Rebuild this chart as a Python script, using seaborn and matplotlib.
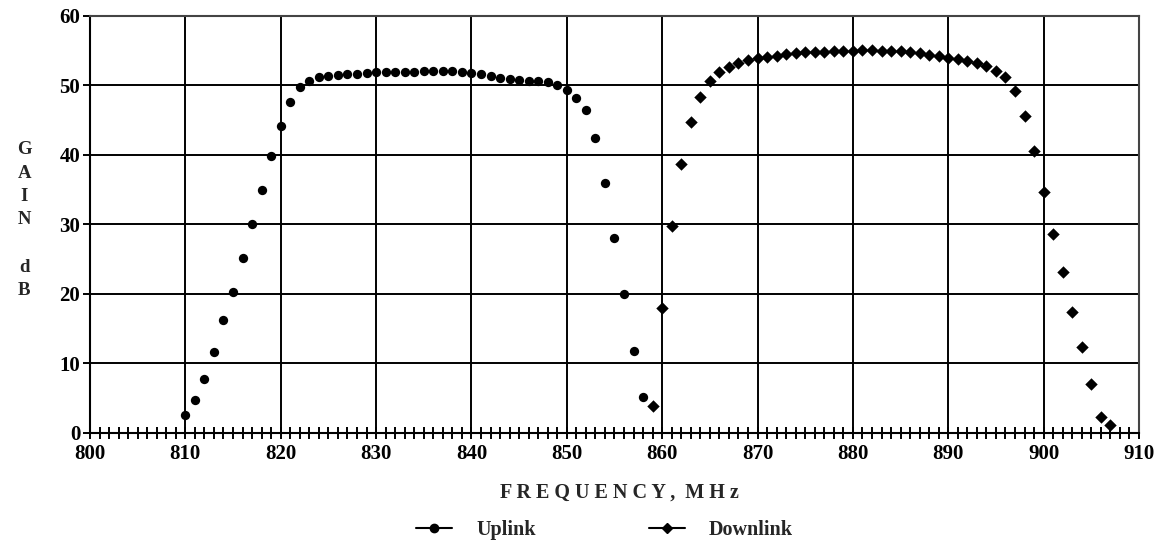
import numpy as np
import pandas as pd
import matplotlib
matplotlib.use("Agg")
import matplotlib.pyplot as plt
import seaborn as sns
from matplotlib.lines import Line2D
from matplotlib.ticker import MultipleLocator

# valeurs
uplink_freq = list(range(810, 859))
uplink_gain = [2.6, 4.7, 7.8, 11.6, 16.3, 20.3, 25.1, 30.0, 34.9, 39.8,
               44.1, 47.6, 49.8, 50.7, 51.2, 51.3, 51.5, 51.6, 51.7, 51.8,
               51.9, 51.9, 52.0, 52.0, 52.0, 52.1, 52.1, 52.1, 52.1, 52.0,
               51.8, 51.6, 51.3, 51.1, 50.9, 50.8, 50.7, 50.6, 50.5, 50.1,
               49.4, 48.2, 46.4, 42.4, 36.0, 28.0, 20.0, 11.8, 5.2]

downlink_freq = list(range(859, 908))
downlink_gain = [3.9, 18.0, 29.7, 38.7, 44.8, 48.4, 50.6, 51.9, 52.6, 53.2,
                 53.6, 53.9, 54.1, 54.3, 54.5, 54.7, 54.8, 54.8, 54.8, 54.9,
                 54.9, 55.0, 55.1, 55.1, 55.0, 54.9, 54.9, 54.8, 54.6, 54.4,
                 54.2, 54.0, 53.8, 53.5, 53.2, 52.8, 52.1, 51.2, 49.2, 45.6,
                 40.5, 34.6, 28.6, 23.2, 17.4, 12.4, 7.0, 2.3, 1.2]

x_ticks = list(range(800, 911, 10))
y_ticks = list(range(0, 61, 10))

df_up = pd.DataFrame({"freq": uplink_freq, "gain": uplink_gain})
df_down = pd.DataFrame({"freq": downlink_freq, "gain": downlink_gain})

sns.set_style("white")
plt.rcParams["font.family"] = ["Liberation Serif", "DejaVu Serif"]
plt.rcParams["font.weight"] = "bold"

fig = plt.figure(figsize=(11.58, 5.5), dpi=100)
ax = fig.add_axes([0.0777, 0.213, 0.9059, 0.758])

sns.scatterplot(data=df_up, x="freq", y="gain", ax=ax, marker="o", s=45,
                color="black", edgecolor="black", linewidth=0, zorder=3)
sns.scatterplot(data=df_down, x="freq", y="gain", ax=ax, marker="D", s=40,
                color="black", edgecolor="black", linewidth=0, zorder=3)

ax.set_xlim(800, 910)
ax.set_ylim(0, 60)
ax.set_xticks(x_ticks)
ax.set_yticks(y_ticks)
ax.xaxis.set_minor_locator(MultipleLocator(1))
ax.grid(True, which="major", color="black", linewidth=1.4)
ax.set_axisbelow(True)
for sp in ax.spines.values():
    sp.set_color("black")
    sp.set_linewidth(1.5)
ax.spines["top"].set_color("#444444")
ax.spines["right"].set_color("#444444")

ax.tick_params(axis="x", which="both", bottom=True, direction="inout",
               length=9, width=1.4, labelsize=15, pad=3.5, colors="black")
ax.tick_params(axis="y", which="major", left=True, direction="out", length=5,
               width=1.4, labelsize=15, pad=2, colors="black")
for lab in ax.get_xticklabels() + ax.get_yticklabels():
    lab.set_fontweight("bold")

ax.set_xlabel("")
ax.set_ylabel("")
fig.text(0.5345, 0.105, "F R E Q U E N C Y ,  M H z", ha="center", va="center",
         fontsize=14.5, fontweight="bold")
fig.text(0.021, 0.60, "G\nA\nI\nN\n\nd\nB", ha="center", va="center",
         fontsize=13.5, fontweight="bold", linespacing=1.5)

handles = [Line2D([0], [0], color="black", lw=1.5, marker="o", markersize=6),
           Line2D([0], [0], color="black", lw=1.5, marker="D", markersize=5.5)]
fig.legend(handles, ["Uplink", "Downlink"], loc="center", ncol=2,
           bbox_to_anchor=(0.522, 0.036), frameon=False, handlelength=1.8,
           handletextpad=1.2, columnspacing=5.6,
           prop={"family": "Liberation Serif", "weight": "bold", "size": 14.5})

fig.savefig("out.png", dpi=100)
